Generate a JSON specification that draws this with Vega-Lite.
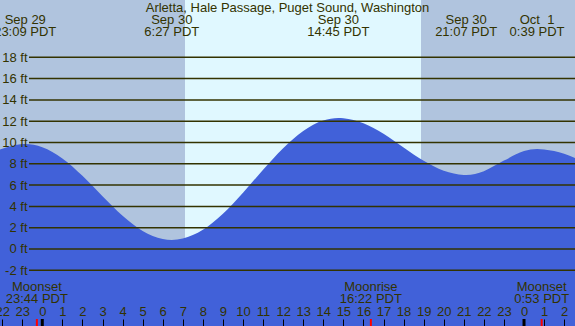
{
  "$schema": "https://vega.github.io/schema/vega-lite/v6.json",
  "width": 575,
  "height": 326,
  "autosize": {"type": "none"},
  "padding": 0,
  "background": "#b0c4de",
  "config": {"view": {"stroke": null}, "font": "Liberation Sans"},
  "title": {"text": "Arletta, Hale Passage, Puget Sound, Washington", "anchor": "middle", "frame": "group", "offset": -15, "fontSize": 13, "fontWeight": "normal", "color": "#333300", "font": "Liberation Sans"},
  "datasets": {
    "tide": [
      {"t": -2.11, "ft": 9.35}, {"t": -1.5, "ft": 9.7}, {"t": -0.85, "ft": 9.85},
      {"t": 0, "ft": 9.55}, {"t": 1, "ft": 8.5}, {"t": 2, "ft": 6.87}, {"t": 3, "ft": 4.96},
      {"t": 4, "ft": 3.13}, {"t": 5, "ft": 1.7}, {"t": 6, "ft": 0.94}, {"t": 6.45, "ft": 0.85},
      {"t": 7, "ft": 0.98}, {"t": 8, "ft": 1.8}, {"t": 9, "ft": 3.31}, {"t": 10, "ft": 5.29},
      {"t": 11, "ft": 7.44}, {"t": 12, "ft": 9.47}, {"t": 13, "ft": 11.09}, {"t": 14, "ft": 12.07},
      {"t": 14.75, "ft": 12.3}, {"t": 15, "ft": 12.28}, {"t": 16, "ft": 11.81}, {"t": 17, "ft": 10.82},
      {"t": 18, "ft": 9.54}, {"t": 19, "ft": 8.28}, {"t": 20, "ft": 7.35}, {"t": 21, "ft": 6.96},
      {"t": 21.12, "ft": 6.95}, {"t": 22, "ft": 7.31}, {"t": 23, "ft": 8.3}, {"t": 24, "ft": 9.2},
      {"t": 24.65, "ft": 9.4}, {"t": 25, "ft": 9.35}, {"t": 26, "ft": 8.95}, {"t": 26.6, "ft": 8.5}
    ],
    "periods": [
      {"start": -2.11, "end": 7.11, "kind": "night"},
      {"start": 7.11, "end": 18.87, "kind": "day"},
      {"start": 18.87, "end": 26.6, "kind": "night"}
    ],
    "levels": [
      {"ft": -2}, {"ft": 0}, {"ft": 2}, {"ft": 4}, {"ft": 6}, {"ft": 8}, {"ft": 10},
      {"ft": 12}, {"ft": 14}, {"ft": 16}, {"ft": 18}
    ],
    "events": [
      {"t": -0.85, "label": "Sep 29\n23:09 PDT"},
      {"t": 6.45, "label": "Sep 30\n6:27 PDT"},
      {"t": 14.75, "label": "Sep 30\n14:45 PDT"},
      {"t": 21.12, "label": "Sep 30\n21:07 PDT"},
      {"t": 24.65, "label": "Oct \u00a01\n0:39 PDT"}
    ],
    "moon": [
      {"t": -0.27, "label": "Moonset\n23:44 PDT"},
      {"t": 16.37, "label": "Moonrise\n16:22 PDT"},
      {"t": 24.88, "label": "Moonset\n0:53 PDT"}
    ],
    "midnight": [{"t": 0}, {"t": 24}]
  },
  "layer": [
    {
      "data": {"name": "periods"},
      "mark": {"type": "rect"},
      "encoding": {
        "x": {"field": "start", "type": "quantitative", "scale": {"domain": [-2.107, 26.54], "nice": false, "zero": false},
              "axis": {"orient": "bottom", "offset": -7, "zindex": 1, "tickCount": 100, "values": [-2,-1,0,1,2,3,4,5,6,7,8,9,10,11,12,13,14,15,16,17,18,19,20,21,22,23,24,25,26],
                       "labelExpr": "((datum.value % 24) + 24) % 24", "domain": false, "tickSize": 7, "tickColor": "#000000", "tickWidth": 1,
                       "labelPadding": -14.5, "labelBaseline": "middle", "labelFontSize": 13, "labelColor": "#333300", "labelFont": "Liberation Sans",
                       "labelOverlap": false, "labelFlush": false, "grid": false, "title": null}},
        "x2": {"field": "end"},
        "y": {"datum": 23.38, "type": "quantitative", "scale": {"domain": [-7.23, 23.38], "nice": false, "zero": false},
              "axis": {"orient": "left", "offset": -29, "zindex": 1, "tickCount": 100, "values": [-2,0,2,4,6,8,10,12,14,16,18], "labelExpr": "datum.value + ' ft'",
                       "domain": false, "ticks": false, "labelPadding": 2, "labelFontSize": 13, "labelColor": "#333300", "labelFont": "Liberation Sans",
                       "grid": false, "title": null, "labelOverlap": false}},
        "y2": {"datum": -7.23},
        "color": {"field": "kind", "type": "nominal", "scale": {"domain": ["night", "day"], "range": ["#b0c4de", "#e0f8ff"]}, "legend": null}
      }
    },
    {
      "data": {"name": "tide"},
      "mark": {"type": "area", "color": "#4161d9", "interpolate": "monotone", "opacity": 1},
      "encoding": {
        "x": {"field": "t", "type": "quantitative"},
        "y": {"field": "ft", "type": "quantitative"},
        "y2": {"datum": -7.23}
      }
    },
    {
      "data": {"name": "levels"},
      "mark": {"type": "rule", "color": "#333300", "strokeWidth": 1.5},
      "encoding": {
        "x": {"datum": -0.663, "type": "quantitative"},
        "x2": {"datum": 26.6},
        "y": {"field": "ft", "type": "quantitative"}
      }
    },
    {
      "data": {"name": "events"},
      "mark": {"type": "text", "lineBreak": "\n", "lineHeight": 11.7, "fontSize": 13, "color": "#333300", "align": "center", "baseline": "middle", "font": "Liberation Sans"},
      "encoding": {
        "x": {"field": "t", "type": "quantitative"},
        "y": {"datum": 21.5, "type": "quantitative"},
        "text": {"field": "label"}
      }
    },
    {
      "data": {"name": "moon"},
      "mark": {"type": "text", "lineBreak": "\n", "lineHeight": 11.7, "fontSize": 13, "color": "#333300", "align": "center", "baseline": "middle", "font": "Liberation Sans"},
      "encoding": {
        "x": {"field": "t", "type": "quantitative"},
        "y": {"datum": -3.6, "type": "quantitative"},
        "text": {"field": "label"}
      }
    },
    {
      "data": {"name": "moon"},
      "mark": {"type": "rule", "color": "#ff0000", "strokeWidth": 2},
      "encoding": {
        "x": {"field": "t", "type": "quantitative"},
        "y": {"datum": -6.57, "type": "quantitative"},
        "y2": {"datum": -7.23}
      }
    },
    {
      "data": {"name": "midnight"},
      "mark": {"type": "rule", "color": "#000000", "strokeWidth": 3},
      "encoding": {
        "x": {"field": "t", "type": "quantitative"},
        "y": {"datum": -6.57, "type": "quantitative"},
        "y2": {"datum": -7.23}
      }
    }
  ]
}
